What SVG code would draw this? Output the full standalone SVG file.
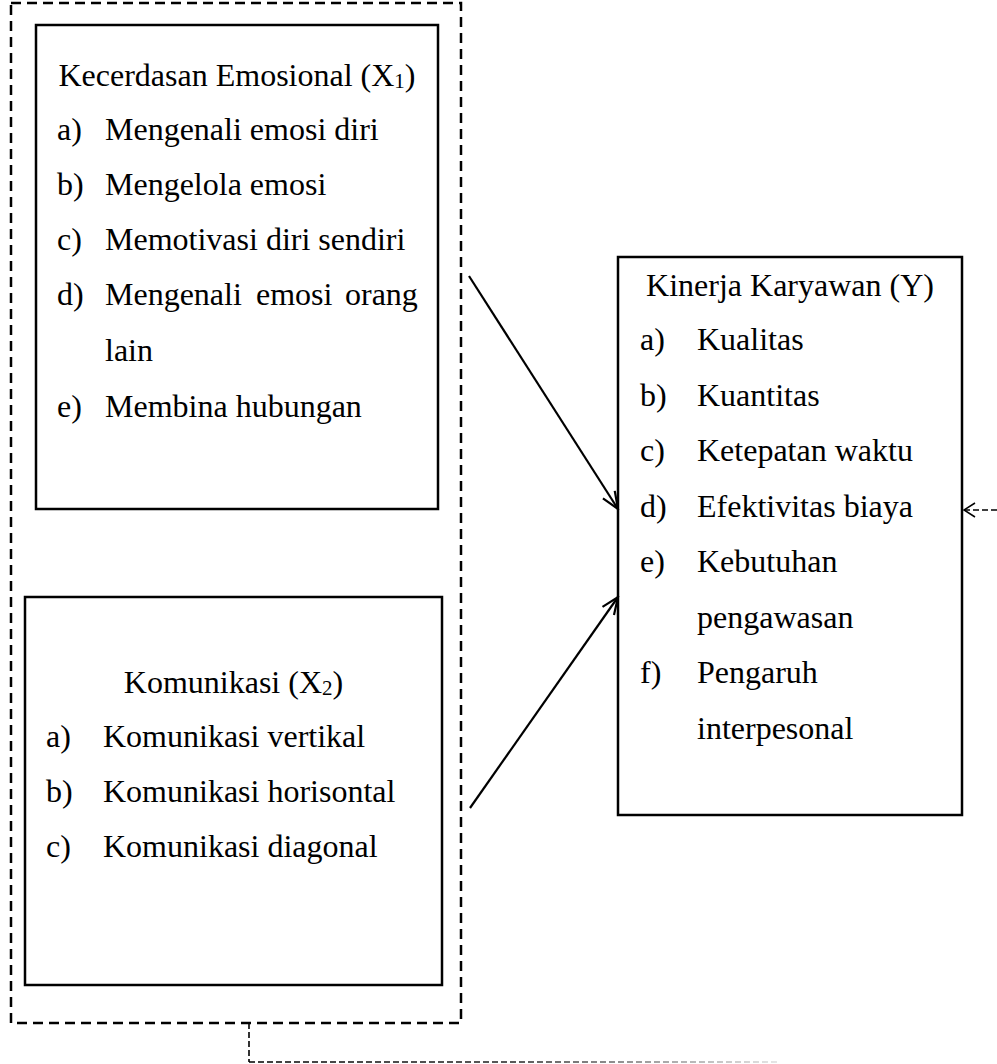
<svg xmlns="http://www.w3.org/2000/svg" width="997" height="1064" viewBox="0 0 997 1064">
<style>
  .box { fill: none; stroke: #000; stroke-width: 2.5; }
  .t { font-family: "Liberation Serif", "Times New Roman", serif; font-size: 32px; fill: #000; }
  .c { text-anchor: middle; }
  .outer { fill: none; stroke: #000; stroke-width: 2.5; stroke-dasharray: 10 6; }
  .thin { fill: none; stroke: #000; stroke-width: 1.6; stroke-dasharray: 6 3; }
  .arrow { fill: none; stroke: #000; stroke-width: 2.2; marker-end: url(#open); }
</style>
<defs>
  <marker id="open" markerUnits="userSpaceOnUse" markerWidth="22" markerHeight="22" viewBox="0 0 22 22" refX="20" refY="11" orient="auto">
    <path d="M3,4 L20,11 L3,18" fill="none" stroke="#000" stroke-width="2.2"/>
  </marker>
  <marker id="openThin" markerUnits="userSpaceOnUse" markerWidth="16" markerHeight="16" viewBox="0 0 16 16" refX="13" refY="8" orient="auto">
    <path d="M2,1 L13,8 L2,15" fill="none" stroke="#000" stroke-width="1.5"/>
  </marker>
  <linearGradient id="fade" gradientUnits="userSpaceOnUse" x1="249" y1="0" x2="777" y2="0">
    <stop offset="0" stop-color="#000"/>
    <stop offset="0.5" stop-color="#222"/>
    <stop offset="1" stop-color="#ddd"/>
  </linearGradient>
</defs>
<rect width="997" height="1064" fill="#fff"/>

<g id="group-x">
  <rect class="outer" x="11" y="3" width="450" height="1020"/>
</g>

<g id="node-x1">
  <rect class="box" x="36" y="25" width="402" height="484"/>
  <text class="t c" x="237" y="86">Kecerdasan Emosional (X<tspan font-size="21" dy="2">1</tspan><tspan dy="-2">)</tspan></text>
  <text class="t" x="57" y="140">a)</text><text class="t" x="105" y="140">Mengenali emosi diri</text>
  <text class="t" x="57" y="195">b)</text><text class="t" x="105" y="195">Mengelola emosi</text>
  <text class="t" x="57" y="250">c)</text><text class="t" x="105" y="250">Memotivasi diri sendiri</text>
  <text class="t" x="57" y="305">d)</text><text class="t" y="305"><tspan x="105">Mengenali</tspan><tspan x="256">emosi</tspan><tspan x="345">orang</tspan></text>
  <text class="t" x="105" y="361">lain</text>
  <text class="t" x="57" y="417">e)</text><text class="t" x="105" y="417">Membina hubungan</text>
</g>

<g id="node-x2">
  <rect class="box" x="25" y="597" width="417" height="388"/>
  <text class="t c" x="233.5" y="693">Komunikasi (X<tspan font-size="21" dy="2">2</tspan><tspan dy="-2">)</tspan></text>
  <text class="t" x="46" y="747">a)</text><text class="t" x="103" y="747">Komunikasi vertikal</text>
  <text class="t" x="46" y="802">b)</text><text class="t" x="103" y="802">Komunikasi horisontal</text>
  <text class="t" x="46" y="857">c)</text><text class="t" x="103" y="857">Komunikasi diagonal</text>
</g>

<g id="node-y">
  <rect class="box" x="618" y="257" width="344" height="558"/>
  <text class="t c" x="790" y="296">Kinerja Karyawan (Y)</text>
  <text class="t" x="640" y="350">a)</text><text class="t" x="697" y="350">Kualitas</text>
  <text class="t" x="640" y="406">b)</text><text class="t" x="697" y="406">Kuantitas</text>
  <text class="t" x="640" y="461">c)</text><text class="t" x="697" y="461">Ketepatan waktu</text>
  <text class="t" x="640" y="517">d)</text><text class="t" x="697" y="517">Efektivitas biaya</text>
  <text class="t" x="640" y="572">e)</text><text class="t" x="697" y="572">Kebutuhan</text>
  <text class="t" x="697" y="628">pengawasan</text>
  <text class="t" x="640" y="683">f)</text><text class="t" x="697" y="683">Pengaruh</text>
  <text class="t" x="697" y="739">interpesonal</text>
</g>

<g id="connectors">
  <line class="arrow" x1="469" y1="276" x2="618" y2="509"/>
  <line class="arrow" x1="470" y1="808" x2="618" y2="597"/>
  <path d="M997,510 L964,510" fill="none" stroke="#000" stroke-width="1.5" stroke-dasharray="6 3" marker-end="url(#openThin)"/>
  <path d="M249,1023 L249,1062" class="thin"/>
  <path d="M249,1062 L777,1062" fill="none" stroke="url(#fade)" stroke-width="1.6" stroke-dasharray="6 3"/>
</g>
</svg>
